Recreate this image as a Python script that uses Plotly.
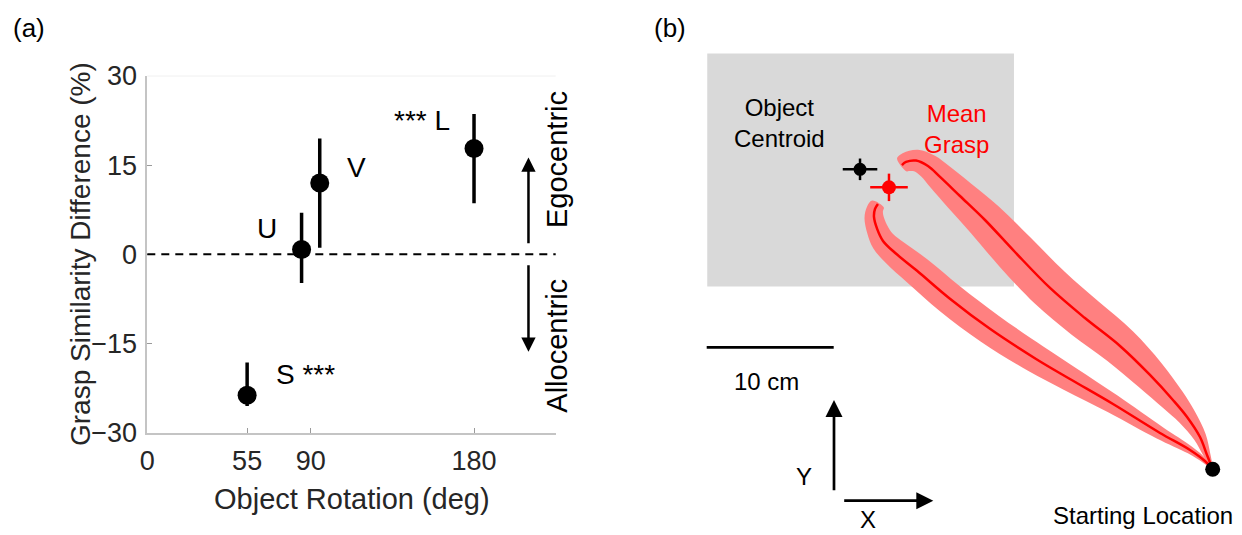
import numpy as np
import plotly.graph_objects as go

# The page body adds an 8 px margin; the figure is sized so that it fills the
# visible window exactly and all reference pixel positions are shifted by it.
VIEW_W, VIEW_H = 1242, 535
OFF = 8
W, H = VIEW_W - OFF, VIEW_H - OFF
FONT = "Liberation Sans, Arial, sans-serif"

# ---------------- Panel (a) data ----------------
conditions = ["S", "U", "V", "L"]
rotation_deg = [55, 85, 95, 180]
similarity_diff = [-23.7, 0.8, 12.0, 17.8]
ci_low = [-25.5, -4.8, 1.1, 8.6]
ci_high = [-18.2, 7.0, 19.5, 23.6]
condition_labels = ["S ***", "U", "V", "*** L"]
x_tickvals = [0, 55, 90, 180]
y_tickvals = [-30, -15, 0, 15, 30]
x_range = [0, 225]
y_range = [-30, 30]
direction_arrow_deg = 210
egocentric_arrow = [1.6, 16.3]
allocentric_arrow = [-1.6, -16.4]

# ---------------- Panel (b) data (cm, start location at origin) ----------------
start_xy = [0.0, 0.0]
object_x = [-39.8, -15.65]
object_y = [14.4, 32.75]
centroid_xy = [-27.77, 23.62]
centroid_err = [1.36, 0.85]
grasp_xy = [-25.49, 22.20]
grasp_err = [1.48, 1.08]
scale_bar_cm = 10

path1_x = [0.0, -0.45, -1.0, -2.02, -3.13, -4.94, -7.30, -10.06, -12.81, -15.57,
           -17.93, -19.90, -21.47, -22.42, -23.36, -24.15, -24.47]
path1_y = [0.0, 1.13, 2.54, 4.12, 5.46, 7.43, 9.71, 11.91, 14.28, 17.11,
           19.63, 21.52, 23.02, 23.88, 24.31, 24.20, 23.96]
path1_sd = [0.05, 0.28, 0.5, 0.75, 1.0, 1.3, 1.54, 1.68, 1.72, 1.67,
            1.52, 1.32, 1.12, 0.98, 0.86, 0.75, 0.64]

path2_x = [0.0, -0.61, -1.79, -4.15, -7.85, -11.24, -13.91, -17.54, -20.69, -23.28,
           -25.02, -25.96, -26.43, -26.67, -26.59, -26.36]
path2_y = [0.0, 0.65, 1.52, 2.86, 5.14, 7.11, 8.69, 11.06, 13.43, 15.63,
           17.05, 17.98, 18.95, 19.87, 20.50, 20.89]
path2_sd = [0.04, 0.19, 0.31, 0.5, 0.75, 0.98, 1.13, 1.24, 1.26, 1.21,
            1.08, 0.96, 0.84, 0.75, 0.65, 0.54]

# ---------------- layout helpers (reference pixel positions) ----------------
def PX(x):
    return (x - OFF) / W


def PY(y):
    return 1 - (y - OFF) / H


A_LEFT, A_RIGHT, A_TOP, A_BOTTOM = 147.3, 555.7, 76.0, 432.7
B_PX_PER_CM = 12.7
B_ORIGIN_PX = (1212.7, 469.3)
B_LEFT_PX = 690

fig = go.Figure()

# ---- panel (a) ----
plus = [h - m for h, m in zip(ci_high, similarity_diff)]
minus = [m - l for l, m in zip(ci_low, similarity_diff)]
fig.add_trace(go.Scatter(
    x=rotation_deg, y=similarity_diff, mode="markers",
    marker=dict(size=19, color="black"),
    error_y=dict(type="data", symmetric=False, array=plus, arrayminus=minus,
                 color="black", thickness=3.5, width=0),
    xaxis="x", yaxis="y", showlegend=False, hoverinfo="x+y"))

# ---- panel (b) ----
def band(xs, ys, sd):
    x = np.asarray(xs, float)
    y = np.asarray(ys, float)
    w = np.asarray(sd, float)
    dx = np.gradient(x)
    dy = np.gradient(y)
    n = np.hypot(dx, dy)
    nx, ny = -dy / n, dx / n
    bx = np.concatenate([x + nx * w, (x - nx * w)[::-1]])
    by = np.concatenate([y + ny * w, (y - ny * w)[::-1]])
    return bx, by


for xs, ys, sd in [(path1_x, path1_y, path1_sd), (path2_x, path2_y, path2_sd)]:
    bx, by = band(xs, ys, sd)
    fig.add_trace(go.Scatter(
        x=bx, y=by, mode="lines", fill="toself", fillcolor="rgb(255,128,128)",
        line=dict(width=0, shape="spline", color="rgb(255,128,128)"),
        xaxis="x2", yaxis="y2", showlegend=False, hoverinfo="skip"))
for xs, ys in [(path1_x, path1_y), (path2_x, path2_y)]:
    fig.add_trace(go.Scatter(
        x=xs, y=ys, mode="lines", line=dict(color="#ff0000", width=2.5, shape="spline"),
        xaxis="x2", yaxis="y2", showlegend=False))

fig.add_trace(go.Scatter(
    x=[centroid_xy[0]], y=[centroid_xy[1]], mode="markers",
    marker=dict(size=13, color="black"),
    error_x=dict(type="data", array=[centroid_err[0]], color="black", thickness=2.5, width=0),
    error_y=dict(type="data", array=[centroid_err[1]], color="black", thickness=2.5, width=0),
    xaxis="x2", yaxis="y2", showlegend=False))
fig.add_trace(go.Scatter(
    x=[grasp_xy[0]], y=[grasp_xy[1]], mode="markers",
    marker=dict(size=14, color="#ff0000"),
    error_x=dict(type="data", array=[grasp_err[0]], color="#ff0000", thickness=2.5, width=0),
    error_y=dict(type="data", array=[grasp_err[1]], color="#ff0000", thickness=2.5, width=0),
    xaxis="x2", yaxis="y2", showlegend=False))
fig.add_trace(go.Scatter(
    x=[start_xy[0]], y=[start_xy[1]], mode="markers",
    marker=dict(size=15, color="black"),
    xaxis="x2", yaxis="y2", showlegend=False))

# scale bar
sb_x0 = (706.7 - B_ORIGIN_PX[0]) / B_PX_PER_CM
sb_y = (B_ORIGIN_PX[1] - 347.3) / B_PX_PER_CM
fig.add_trace(go.Scatter(
    x=[sb_x0, sb_x0 + scale_bar_cm], y=[sb_y, sb_y], mode="lines",
    line=dict(color="black", width=2.7), xaxis="x2", yaxis="y2", showlegend=False))

shapes = [
    dict(type="rect", xref="x2", yref="y2", x0=object_x[0], x1=object_x[1],
         y0=object_y[0], y1=object_y[1], fillcolor="#d9d9d9", line=dict(width=0),
         layer="below"),
    dict(type="line", xref="x domain", yref="y", x0=0, x1=1, y0=0, y1=0,
         line=dict(color="black", width=2, dash="8px,6px")),
    dict(type="line", xref="x domain", yref="y domain", x0=0, x1=1, y0=1, y1=1,
         line=dict(color="#f0f0f0", width=1)),
]

ann = []


def add_text(text, x, y, size, color="#000000", angle=0, xanchor="center"):
    ann.append(dict(text=text, x=PX(x), y=PY(y), xref="paper", yref="paper",
                    showarrow=False, xanchor=xanchor, yanchor="middle",
                    textangle=angle, font=dict(family=FONT, size=size, color=color)))


add_text("(a)", 29, 28, 26)
add_text("(b)", 670, 28, 26)
add_text("Grasp Similarity Difference (%)", 80, 254, 28, "#262626", -90)
add_text("Object Rotation (deg)", 352, 499, 29, "#262626")

label_pos_px = {"S": (305, 374), "U": (266.7, 228), "V": (356.7, 167.3), "L": (421.7, 120)}
for c, lab in zip(conditions, condition_labels):
    add_text(lab, *label_pos_px[c], 28)

add_text("Egocentric", 557, 160, 29, angle=-90)
add_text("Allocentric", 557, 345.7, 29, angle=-90)

for tail, tip in [(egocentric_arrow[0], egocentric_arrow[1]),
                  (allocentric_arrow[0], allocentric_arrow[1])]:
    ann.append(dict(x=direction_arrow_deg, y=tip, ax=direction_arrow_deg, ay=tail,
                    xref="x", yref="y", axref="x", ayref="y", text="",
                    showarrow=True, arrowhead=2, arrowsize=1.15, arrowwidth=2.5,
                    arrowcolor="black"))

add_text("Object<br>Centroid", 732, 122.5, 24, xanchor="left")
add_text("Mean<br>Grasp", 922, 129, 24, color="#ff0000", xanchor="left")
add_text("10 cm", 766, 381.7, 24)
add_text("Y", 804.3, 476, 24)
add_text("X", 868.3, 519, 24)
add_text("Starting Location", 1142.5, 515, 24)

ann.append(dict(x=PX(834), y=PY(400), xref="paper", yref="paper", text="",
                showarrow=True, ax=0, ay=91.7, arrowhead=2, arrowsize=1.26,
                arrowwidth=2.7, arrowcolor="black"))
ann.append(dict(x=PX(933.3), y=PY(500.7), xref="paper", yref="paper", text="",
                showarrow=True, ax=-90.6, ay=0, arrowhead=2, arrowsize=1.26,
                arrowwidth=2.7, arrowcolor="black"))

b_xr = [(B_LEFT_PX - B_ORIGIN_PX[0]) / B_PX_PER_CM, (VIEW_W - B_ORIGIN_PX[0]) / B_PX_PER_CM]
b_yr = [(B_ORIGIN_PX[1] - VIEW_H) / B_PX_PER_CM, (B_ORIGIN_PX[1] - OFF) / B_PX_PER_CM]

axis_common = dict(showgrid=False, zeroline=False, showline=True, linecolor="#c4c4c4",
                   linewidth=1.5, ticks="inside", ticklen=5, tickwidth=1.2,
                   tickcolor="#9a9a9a", automargin=False,
                   tickfont=dict(family=FONT, size=27, color="#262626"))

fig.update_layout(
    width=W, height=H, autosize=False,
    margin=dict(l=0, r=0, t=0, b=0, pad=0, autoexpand=False),
    paper_bgcolor="white", plot_bgcolor="white", showlegend=False,
    font=dict(family=FONT),
    xaxis=dict(domain=[PX(A_LEFT), PX(A_RIGHT)], range=x_range, tickvals=x_tickvals,
               ticklabelstandoff=3, **axis_common),
    yaxis=dict(domain=[PY(A_BOTTOM), PY(A_TOP)], range=y_range, tickvals=y_tickvals,
               ticklabelstandoff=3, **axis_common),
    xaxis2=dict(domain=[PX(B_LEFT_PX), 1], range=b_xr, visible=False, anchor="y2"),
    yaxis2=dict(domain=[0, 1], range=b_yr, visible=False, anchor="x2"),
    shapes=shapes, annotations=ann,
)

fig.write_html("out.html")
